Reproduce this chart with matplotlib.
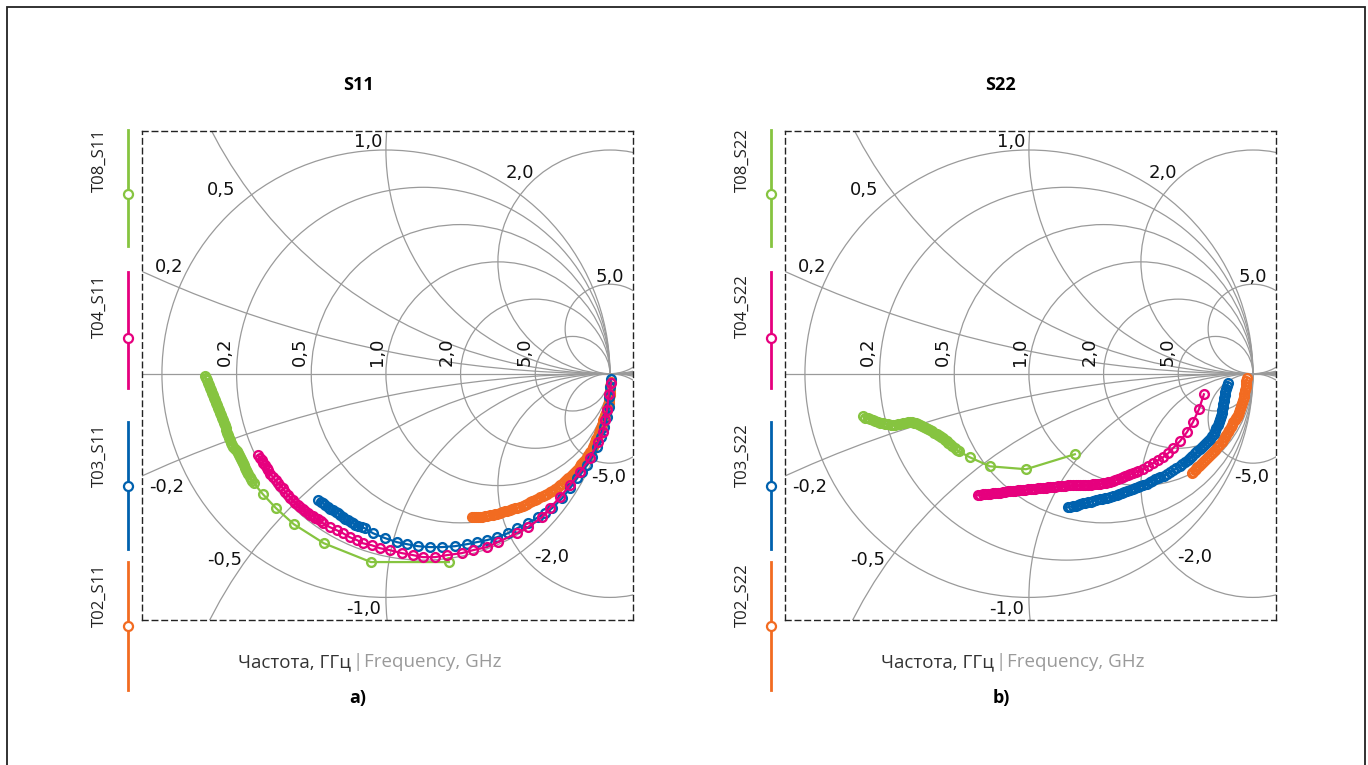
import matplotlib.pyplot as plt
from matplotlib.lines import Line2D
from matplotlib.patches import Circle, Rectangle

# ---- data: reflection coefficient (Re, Im) ----
# S11
s11_t08_re = [-0.808, -0.804, -0.799, -0.795, -0.790, -0.786, -0.781, -0.777, -0.772, -0.768,
              -0.763, -0.759, -0.754, -0.750, -0.746, -0.741, -0.737, -0.732, -0.728, -0.723,
              -0.719, -0.716, -0.714, -0.709, -0.705, -0.700, -0.696, -0.692, -0.688, -0.681,
              -0.674, -0.667, -0.661, -0.656, -0.652, -0.647, -0.643, -0.638, -0.634, -0.629,
              -0.625, -0.620, -0.616, -0.609, -0.603, -0.596, -0.589,
              -0.549, -0.491, -0.411, -0.277, -0.067, 0.281]
s11_t08_im = [-0.008, -0.019, -0.030, -0.041, -0.052, -0.064, -0.075, -0.086, -0.097, -0.108,
              -0.119, -0.131, -0.142, -0.153, -0.164, -0.175, -0.186, -0.197, -0.208, -0.220,
              -0.231, -0.242, -0.253, -0.264, -0.275, -0.287, -0.298, -0.309, -0.320, -0.329,
              -0.338, -0.347, -0.356, -0.365, -0.374, -0.383, -0.392, -0.401, -0.409, -0.421,
              -0.432, -0.441, -0.450, -0.461, -0.472, -0.481, -0.490,
              -0.539, -0.601, -0.673, -0.758, -0.842, -0.842]

s11_t04_re = [-0.571, -0.562, -0.554, -0.547, -0.540, -0.533, -0.527, -0.516, -0.504, -0.493,
              -0.482, -0.471, -0.460, -0.449, -0.438, -0.427, -0.415, -0.404, -0.393, -0.382,
              -0.371, -0.360, -0.348, -0.337, -0.326, -0.315, -0.304, -0.292, -0.281,
              -0.250, -0.219, -0.192, -0.161, -0.129, -0.103, -0.063, -0.027, 0.018, 0.071,
              0.121, 0.165, 0.219, 0.272, 0.339, 0.388, 0.451, 0.500, 0.585, 0.634,
              0.696, 0.732, 0.777, 0.821, 0.866, 0.911, 0.946, 0.969, 0.978, 0.987,
              0.995, 1.005]
s11_t04_im = [-0.365, -0.376, -0.387, -0.398, -0.409, -0.420, -0.432, -0.447, -0.463, -0.477,
              -0.490, -0.501, -0.512, -0.528, -0.543, -0.555, -0.566, -0.577, -0.588, -0.597,
              -0.606, -0.615, -0.624, -0.631, -0.637, -0.644, -0.650, -0.659, -0.668,
              -0.686, -0.700, -0.713, -0.731, -0.744, -0.758, -0.767, -0.780, -0.789, -0.802,
              -0.811, -0.820, -0.820, -0.811, -0.802, -0.789, -0.775, -0.753, -0.713, -0.686,
              -0.642, -0.601, -0.552, -0.499, -0.441, -0.378, -0.307, -0.262, -0.208, -0.164,
              -0.090, -0.040]

s11_t03_re = [-0.304, -0.292, -0.281, -0.270, -0.259, -0.248, -0.237, -0.225, -0.214, -0.203,
              -0.192, -0.181, -0.170, -0.158, -0.147, -0.136, -0.125, -0.109, -0.094,
              -0.058, -0.004, 0.049, 0.094, 0.143, 0.196, 0.250, 0.308, 0.362, 0.406,
              0.451, 0.496, 0.545, 0.585, 0.634, 0.679, 0.710, 0.741, 0.786, 0.821,
              0.853, 0.875, 0.897, 0.920, 0.942, 0.960, 0.973, 0.987, 0.996, 0.998,
              1.002, 1.004]
s11_t03_im = [-0.566, -0.572, -0.579, -0.588, -0.597, -0.603, -0.610, -0.617, -0.624, -0.633,
              -0.642, -0.648, -0.655, -0.662, -0.668, -0.675, -0.682, -0.686, -0.691,
              -0.713, -0.735, -0.753, -0.762, -0.771, -0.775, -0.775, -0.771, -0.762, -0.753,
              -0.744, -0.731, -0.713, -0.691, -0.668, -0.642, -0.624, -0.601, -0.557, -0.512,
              -0.467, -0.441, -0.409, -0.374, -0.329, -0.284, -0.240, -0.195, -0.150, -0.106,
              -0.061, -0.025]

s11_t02_re = [0.384, 0.393, 0.402, 0.411, 0.420, 0.431, 0.442, 0.453, 0.464, 0.476,
              0.487, 0.498, 0.509, 0.520, 0.531, 0.542, 0.554, 0.565, 0.576, 0.587,
              0.598, 0.610, 0.621, 0.632, 0.643, 0.654, 0.665, 0.676, 0.688, 0.699,
              0.710, 0.721, 0.732, 0.743, 0.754, 0.766, 0.777, 0.786, 0.795, 0.804,
              0.813, 0.824, 0.835, 0.844, 0.853, 0.860, 0.866, 0.873, 0.879, 0.888,
              0.897, 0.904, 0.911, 0.918, 0.924, 0.929, 0.933, 0.940, 0.946, 0.951,
              0.955, 0.960, 0.964, 0.967, 0.969, 0.974, 0.978, 0.983, 0.987, 0.989,
              0.991, 0.994, 0.996, 0.998, 0.999, 1.000, 1.000, 1.002, 1.003]
s11_t02_im = [-0.642, -0.642, -0.642, -0.642, -0.642, -0.640, -0.637, -0.635, -0.633, -0.630,
              -0.628, -0.626, -0.624, -0.619, -0.615, -0.613, -0.610, -0.606, -0.601, -0.599,
              -0.597, -0.592, -0.588, -0.581, -0.575, -0.570, -0.566, -0.559, -0.552, -0.548,
              -0.543, -0.537, -0.530, -0.523, -0.516, -0.508, -0.499, -0.492, -0.485, -0.476,
              -0.467, -0.458, -0.449, -0.441, -0.432, -0.423, -0.414, -0.405, -0.396, -0.385,
              -0.374, -0.362, -0.351, -0.340, -0.329, -0.318, -0.307, -0.293, -0.280, -0.267,
              -0.253, -0.242, -0.231, -0.220, -0.208, -0.197, -0.186, -0.175, -0.164, -0.152,
              -0.141, -0.130, -0.119, -0.108, -0.097, -0.086, -0.074, -0.057, -0.039]

# S22
s22_t08_re = [-0.741, -0.730, -0.719, -0.708, -0.696, -0.685, -0.674, -0.663, -0.652, -0.641,
              -0.629, -0.618, -0.607, -0.596, -0.585, -0.574, -0.563, -0.552, -0.540, -0.531,
              -0.522, -0.513, -0.504, -0.496, -0.487, -0.478, -0.469, -0.460, -0.451, -0.442,
              -0.433, -0.422, -0.411, -0.404, -0.397, -0.391, -0.384, -0.375, -0.366, -0.360,
              -0.353, -0.342, -0.330, -0.322, -0.313, -0.263, -0.174, -0.013, 0.205]
s22_t08_im = [-0.191, -0.196, -0.200, -0.204, -0.208, -0.213, -0.217, -0.220, -0.222, -0.224,
              -0.226, -0.229, -0.231, -0.229, -0.226, -0.224, -0.222, -0.219, -0.217, -0.217,
              -0.217, -0.219, -0.222, -0.226, -0.231, -0.235, -0.240, -0.244, -0.249, -0.253,
              -0.258, -0.264, -0.271, -0.275, -0.280, -0.284, -0.289, -0.296, -0.302, -0.309,
              -0.316, -0.324, -0.333, -0.340, -0.347, -0.374, -0.414, -0.427, -0.360]

s22_t04_re = [-0.228, -0.217, -0.205, -0.194, -0.183, -0.172, -0.161, -0.150, -0.138, -0.127,
              -0.116, -0.105, -0.094, -0.083, -0.071, -0.060, -0.049, -0.038, -0.027, -0.016,
              -0.004, 0.007, 0.018, 0.029, 0.040, 0.051, 0.063, 0.074, 0.085, 0.096,
              0.107, 0.118, 0.129, 0.141, 0.152, 0.163, 0.174, 0.185, 0.196, 0.208,
              0.219, 0.230, 0.241, 0.252, 0.263, 0.275, 0.286, 0.297, 0.308, 0.319,
              0.330, 0.342, 0.353, 0.364, 0.375, 0.386, 0.397, 0.409, 0.420, 0.431,
              0.442, 0.453, 0.464, 0.476, 0.487, 0.509, 0.531, 0.554, 0.576, 0.598,
              0.621, 0.643, 0.674, 0.705, 0.732, 0.759, 0.781]
s22_t04_im = [-0.543, -0.541, -0.539, -0.539, -0.539, -0.537, -0.534, -0.534, -0.534, -0.532,
              -0.530, -0.528, -0.525, -0.525, -0.525, -0.523, -0.521, -0.521, -0.521, -0.519,
              -0.516, -0.516, -0.516, -0.514, -0.512, -0.512, -0.512, -0.510, -0.507, -0.507,
              -0.507, -0.505, -0.503, -0.503, -0.503, -0.501, -0.499, -0.499, -0.499, -0.499,
              -0.499, -0.499, -0.499, -0.499, -0.499, -0.497, -0.494, -0.494, -0.494, -0.492,
              -0.490, -0.488, -0.485, -0.483, -0.481, -0.477, -0.472, -0.468, -0.463, -0.459,
              -0.454, -0.450, -0.445, -0.441, -0.436, -0.427, -0.414, -0.400, -0.387, -0.374,
              -0.356, -0.333, -0.302, -0.262, -0.217, -0.159, -0.092]

s22_t03_re = [0.174, 0.185, 0.196, 0.208, 0.219, 0.230, 0.241, 0.252, 0.263, 0.275,
              0.286, 0.301, 0.317, 0.328, 0.339, 0.350, 0.362, 0.377, 0.393, 0.404,
              0.415, 0.426, 0.438, 0.451, 0.464, 0.475, 0.487, 0.498, 0.509, 0.525,
              0.540, 0.551, 0.563, 0.574, 0.585, 0.601, 0.616, 0.629, 0.643, 0.658,
              0.674, 0.685, 0.696, 0.708, 0.719, 0.730, 0.741, 0.752, 0.763, 0.772,
              0.781, 0.790, 0.799, 0.808, 0.817, 0.824, 0.830, 0.837, 0.844, 0.848,
              0.853, 0.858, 0.862, 0.864, 0.866, 0.868, 0.871, 0.873, 0.875, 0.877,
              0.880, 0.884, 0.888]
s22_t03_im = [-0.597, -0.594, -0.592, -0.590, -0.588, -0.583, -0.579, -0.577, -0.575, -0.572,
              -0.570, -0.565, -0.561, -0.559, -0.557, -0.554, -0.552, -0.548, -0.543, -0.539,
              -0.534, -0.530, -0.525, -0.521, -0.516, -0.512, -0.508, -0.503, -0.499, -0.492,
              -0.485, -0.479, -0.472, -0.468, -0.463, -0.456, -0.450, -0.441, -0.432, -0.423,
              -0.414, -0.405, -0.396, -0.387, -0.378, -0.367, -0.356, -0.347, -0.338, -0.329,
              -0.320, -0.311, -0.302, -0.291, -0.280, -0.269, -0.258, -0.244, -0.231, -0.217,
              -0.204, -0.190, -0.177, -0.163, -0.150, -0.137, -0.124, -0.110, -0.097, -0.083,
              -0.070, -0.056, -0.043]

s22_t02_re = [0.728, 0.734, 0.741, 0.746, 0.750, 0.759, 0.768, 0.777, 0.786, 0.795,
              0.804, 0.813, 0.821, 0.830, 0.839, 0.850, 0.862, 0.868, 0.875, 0.882,
              0.888, 0.895, 0.902, 0.906, 0.911, 0.918, 0.924, 0.929, 0.933, 0.938,
              0.942, 0.946, 0.951, 0.955, 0.960, 0.962, 0.964, 0.967, 0.969, 0.971, 0.973]
s22_t02_im = [-0.445, -0.438, -0.432, -0.425, -0.418, -0.411, -0.405, -0.396, -0.387, -0.378,
              -0.369, -0.360, -0.351, -0.340, -0.329, -0.318, -0.307, -0.296, -0.284, -0.273,
              -0.262, -0.251, -0.240, -0.229, -0.217, -0.208, -0.200, -0.193, -0.186, -0.172,
              -0.159, -0.146, -0.133, -0.119, -0.106, -0.090, -0.074, -0.061, -0.048, -0.034, -0.021]

series_names = ['T08', 'T04', 'T03', 'T02']
series_colors = ['#86c440', '#e6007e', '#0061ae', '#f26b21']

r_values = [0, 0.2, 0.5, 1.0, 2.0, 5.0]
x_values = [0.2, 0.5, 1.0, 2.0, 5.0]
r_labels = ['0,2', '0,5', '1,0', '2,0', '5,0']
x_labels = ['0,2', '0,5', '1,0', '2,0', '5,0']

panels = [
    ('S11', 'a)', [(s11_t08_re, s11_t08_im), (s11_t04_re, s11_t04_im),
                   (s11_t03_re, s11_t03_im), (s11_t02_re, s11_t02_im)]),
    ('S22', 'b)', [(s22_t08_re, s22_t08_im), (s22_t04_re, s22_t04_im),
                   (s22_t03_re, s22_t03_im), (s22_t02_re, s22_t02_im)]),
]

W, H = 1368, 765
fig = plt.figure(figsize=(W / 100, H / 100), dpi=100)
fig.patch.set_facecolor('white')


def fx(px):
    return px / W


def fy(py):
    return 1 - py / H


# outer frame
fig.add_artist(Rectangle((fx(7), -0.02), fx(1365) - fx(7), fy(7) + 0.02,
                         transform=fig.transFigure, fill=False,
                         edgecolor='#222222', linewidth=1.3))

grid_c = '#9a9a9a'
# label positions for reactance values (upper, lower) in chart units
x_lab_up = [(-0.969, 0.479), (-0.737, 0.822), (-0.080, 1.037), (0.598, 0.899), (1.0, 0.434)]
x_lab_dn = [(-0.978, -0.508), (-0.719, -0.833), (-0.098, -1.052), (0.741, -0.820), (0.996, -0.463)]
r_lab_x = [-0.717, -0.384, -0.042, 0.270, 0.621]

for k, (title, tag, data) in enumerate(panels):
    off = k * 643
    ax = fig.add_axes([fx(142 + off), fy(620), fx(491), 489 / H])
    ax.set_xlim(-1.089, 1.103)
    ax.set_ylim(-1.101, 1.085)
    ax.set_xticks([])
    ax.set_yticks([])
    for sp in ax.spines.values():
        sp.set_linestyle((0, (4, 3)))
        sp.set_linewidth(1.0)
        sp.set_color('#222222')

    # smith chart grid
    for r in r_values:
        ax.add_patch(Circle((r / (1 + r), 0), 1 / (1 + r), fill=False,
                            edgecolor=grid_c, linewidth=0.9, zorder=1))
    for x in x_values:
        for s in (1, -1):
            ax.add_patch(Circle((1, s / x), 1 / x, fill=False,
                                edgecolor=grid_c, linewidth=0.9, zorder=1))
    ax.axhline(0, color=grid_c, linewidth=0.9, zorder=1)

    for lab, (u, v) in zip(x_labels, x_lab_up):
        ax.text(u, v, lab, ha='center', va='center', fontsize=13, color='#111111')
    for lab, (u, v) in zip(x_labels, x_lab_dn):
        ax.text(u, v, '-' + lab, ha='center', va='center', fontsize=13, color='#111111')
    for lab, u in zip(r_labels, r_lab_x):
        ax.text(u, 0.097, lab, ha='center', va='center', rotation=90,
                fontsize=13, color='#111111')

    # curves: drawn bottom to top
    order = [0, 3, 2, 1]
    for i in order:
        re, im = data[i]
        ax.plot(re, im, color=series_colors[i], linewidth=1.6, marker='o',
                markersize=6.3, markerfacecolor='none', markeredgewidth=1.7,
                zorder=3 + order.index(i))

    # title and captions
    cx_txt = 358 + off
    fig.text(fx(cx_txt), fy(85), title, ha='center', va='center',
             fontsize=13, fontweight='bold', family='Open Sans')
    fig.text(fx(cx_txt), fy(698), tag, ha='center', va='center',
             fontsize=13, fontweight='bold', family='Open Sans')
    fig.text(fx(351 + off), fy(662), 'Частота, ГГц', ha='right', va='center',
             fontsize=13.5, color='#333333', family='Open Sans')
    fig.text(fx(357.5 + off), fy(662), '|', ha='center', va='center',
             fontsize=13.5, color='#9a9a9a', family='Open Sans')
    fig.text(fx(364 + off), fy(662), 'Frequency, GHz', ha='left', va='center',
             fontsize=13.5, color='#9a9a9a', family='Open Sans')

    # side legend
    seg = [(130, 246, 194, 160), (272, 388, 338, 306), (422, 549, 486, 455), (562, 690, 626, 595)]
    for i, (y0, y1, ym, yl) in enumerate(seg):
        c = series_colors[i]
        fig.add_artist(Line2D([fx(128 + off)] * 2, [fy(y0), fy(y1)],
                              transform=fig.transFigure, color=c, linewidth=2.0))
        fig.add_artist(Line2D([fx(128 + off)], [fy(ym)], transform=fig.transFigure,
                              marker='o', markersize=6.5, markerfacecolor='white',
                              markeredgecolor=c, markeredgewidth=1.6, color=c))
        fig.text(fx(100 + off), fy(yl), series_names[i] + '_' + title, rotation=90,
                 ha='center', va='center', fontsize=12, color='#222222',
                 family='Open Sans')

fig.savefig('out.png', dpi=100)
